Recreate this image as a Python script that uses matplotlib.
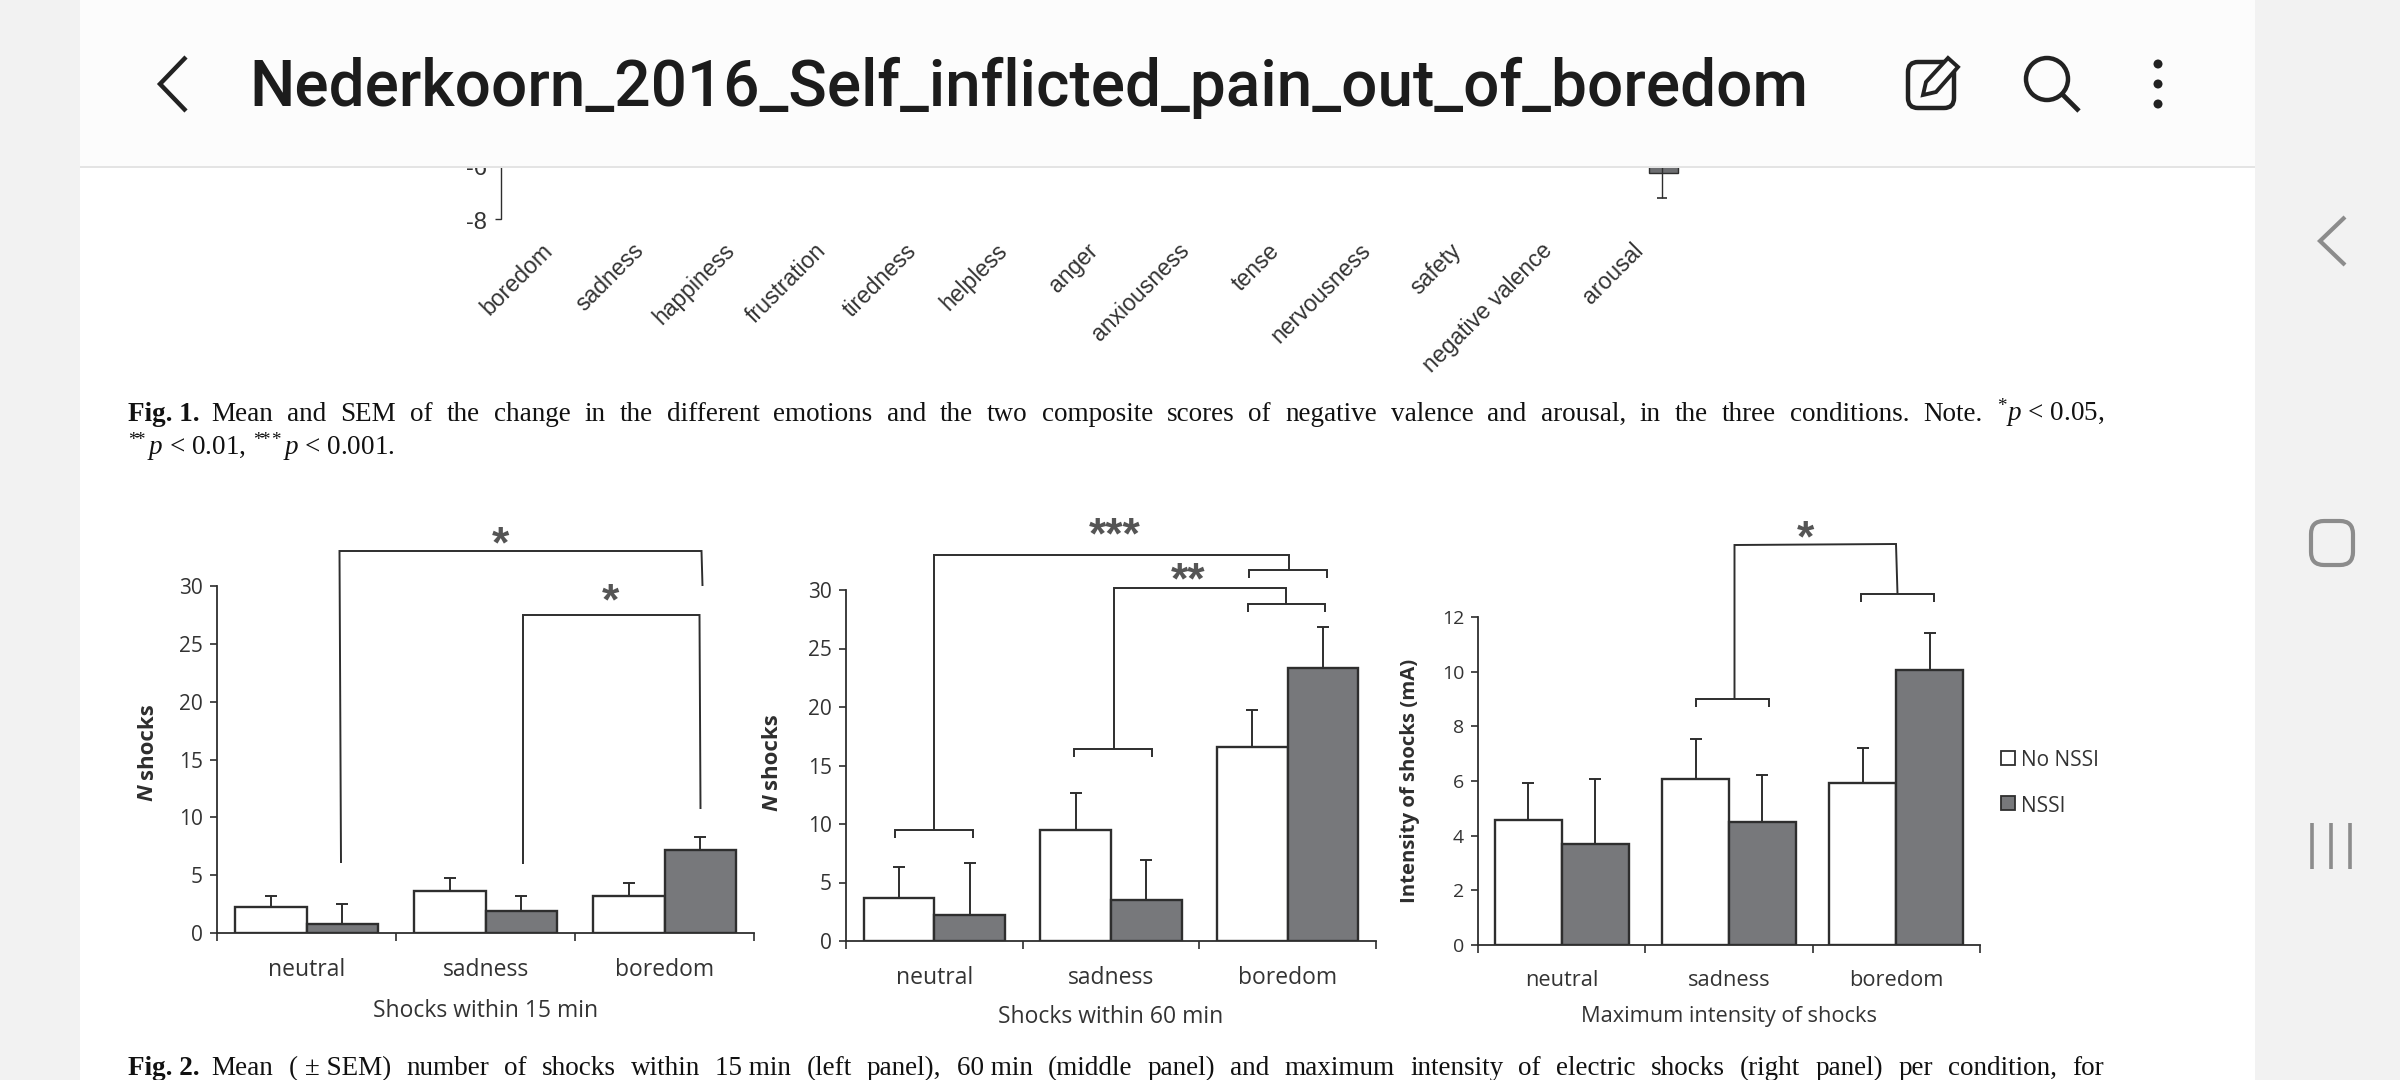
import matplotlib
matplotlib.use('Agg')
import numpy as np
import matplotlib.pyplot as plt
from matplotlib.patches import Rectangle, FancyBboxPatch, Circle, Polygon

W, H = 2400, 1080

plt.rcParams['font.family'] = ['Open Sans', 'DejaVu Sans']
plt.rcParams['mathtext.fontset'] = 'custom'
plt.rcParams['mathtext.rm'] = 'Liberation Serif'
plt.rcParams['mathtext.it'] = 'Liberation Serif:italic'
plt.rcParams['mathtext.bf'] = 'Liberation Serif:bold'
plt.rcParams['mathtext.default'] = 'it'

# values
conditions = ['neutral', 'sadness', 'boredom']
group_names = ['No NSSI', 'NSSI']

shocks15_no = [2.27, 3.6, 3.2]
shocks15_no_sem = [0.93, 1.13, 1.15]
shocks15_nssi = [0.77, 1.92, 7.2]
shocks15_nssi_sem = [1.73, 1.28, 1.1]

shocks60_no = [3.7, 9.48, 16.6]
shocks60_no_sem = [2.62, 3.17, 3.16]
shocks60_nssi = [2.2, 3.5, 23.3]
shocks60_nssi_sem = [4.47, 3.4, 3.54]

intensity_no = [4.59, 6.08, 5.93]
intensity_no_sem = [1.34, 1.44, 1.27]
intensity_nssi = [3.7, 4.51, 10.07]
intensity_nssi_sem = [2.38, 1.72, 1.33]

emotions = ['boredom', 'sadness', 'happiness', 'frustration', 'tiredness', 'helpless', 'anger',
            'anxiousness', 'tense', 'nervousness', 'safety', 'negative valence', 'arousal']

title = 'Nederkoorn_2016_Self_inflicted_pain_out_of_boredom'
fig1_line1 = ['Mean', 'and', 'SEM', 'of', 'the', 'change', 'in', 'the', 'different', 'emotions', 'and', 'the',
              'two', 'composite', 'scores', 'of', 'negative', 'valence', 'and', 'arousal,', 'in', 'the', 'three',
              'conditions.', 'Note.', r'$^{*}p$ < 0.05,']
fig1_line2 = [r'$^{*\!\!*}p$ < 0.01,', r'$^{*\!\!*\!\!*}p$ < 0.001.']
fig2_line = ['Mean', '( \u00b1 SEM)', 'number', 'of', 'shocks', 'within', '15 min', '(left', 'panel),', '60 min',
             '(middle', 'panel)', 'and', 'maximum', 'intensity', 'of', 'electric', 'shocks', '(right',
             'panel)', 'per', 'condition,', 'for']

INK = '#2e2e2e'
GREY_BAR = '#77787b'
TXT = '#333333'

fig = plt.figure(figsize=(W / 100, H / 100), dpi=100, facecolor='white')


def panel(left, right, top, bottom, ymax, yticks, no, no_sem, nssi, nssi_sem, xlabel, fs, tick_fs, tick_pad, label_pad):
    ax = fig.add_axes([left / W, 1 - bottom / H, (right - left) / W, (bottom - top) / H], zorder=1)
    ax.patch.set_alpha(0)
    x = np.arange(3) + 0.5
    width = 0.4
    for xs, vals, sem, col in [(x - width / 2, no, no_sem, 'white'), (x + width / 2, nssi, nssi_sem, GREY_BAR)]:
        ax.bar(xs, vals, width, color=col, edgecolor=INK, linewidth=1.7, zorder=3)
        ax.errorbar(xs, vals, yerr=[np.zeros(3), sem], fmt='none', ecolor=INK, elinewidth=1.4,
                    capsize=4.5, capthick=1.4, zorder=2)
    ax.set_xlim(0, 3)
    ax.set_ylim(0, ymax)
    ax.set_yticks(yticks)
    ax.set_xticks([0, 1, 2, 3])
    ax.set_xticklabels([])
    ax.set_xticks(x, minor=True)
    ax.set_xticklabels(conditions, minor=True, fontsize=fs, color=TXT)
    ax.tick_params(axis='x', which='minor', length=0, pad=tick_pad)
    ax.tick_params(axis='x', which='major', length=6, width=1.2, color=INK)
    ax.tick_params(axis='y', length=5, width=1.2, color=INK, labelsize=tick_fs, labelcolor=TXT, pad=5)
    for s in ['top', 'right']:
        ax.spines[s].set_visible(False)
    for s in ['left', 'bottom']:
        ax.spines[s].set_color(INK)
        ax.spines[s].set_linewidth(1.3)
    ax.set_xlabel(xlabel, fontsize=fs, color=TXT, labelpad=label_pad)
    return ax


panel(217, 754, 586, 933, 30, [0, 5, 10, 15, 20, 25, 30], shocks15_no, shocks15_no_sem,
      shocks15_nssi, shocks15_nssi_sem, 'Shocks within 15 min', 16.5, 15, 18, 12)
panel(846, 1376, 590, 941, 30, [0, 5, 10, 15, 20, 25, 30], shocks60_no, shocks60_no_sem,
      shocks60_nssi, shocks60_nssi_sem, 'Shocks within 60 min', 16.5, 15, 18, 11)
panel(1478, 1980, 617, 945, 12, [0, 2, 4, 6, 8, 10, 12], intensity_no, intensity_no_sem,
      intensity_nssi, intensity_nssi_sem, 'Maximum intensity of shocks', 15.7, 14, 18, 10.5)

# page overlay in pixel coordinates
page = fig.add_axes([0, 0, 1, 1], zorder=5)
page.set_xlim(0, W)
page.set_ylim(H, 0)
page.axis('off')
page.patch.set_alpha(0)


def line(xs, ys, lw=1.4, color=INK, z=4):
    page.plot(xs, ys, color=color, lw=lw, solid_capstyle='butt', solid_joinstyle='miter', zorder=z)


def bracket(x0, x1, y, drop=8):
    line([x0, x0, x1, x1], [y + drop, y, y, y + drop])


def star(s, x, y):
    page.text(x, y + 9, s, ha='center', va='center', fontsize=32, fontweight='bold', color='#555555',
              family=['Liberation Sans'])


# significance brackets, panel 1
line([341, 339.5, 701.5, 702.5], [863, 551, 551, 586])
line([523, 523, 699.5, 700.5], [864, 615, 615, 809])
star('*', 500, 537)
star('*', 610, 594)
# panel 2
bracket(895, 973, 830)
line([934, 934, 1288.5, 1288.5], [830, 555, 555, 570])
bracket(1249, 1327, 570)
bracket(1074, 1152, 749)
line([1113.5, 1113.5, 1286, 1286], [749, 588, 588, 604])
bracket(1247.5, 1324.5, 604)
star('***', 1115, 528)
star('**', 1188, 573)
# panel 3
bracket(1696, 1769, 699)
line([1734.5, 1734.5, 1896, 1897.5], [699, 545, 544, 594])
bracket(1861, 1934, 594)
star('*', 1805, 531)

# legend
page.add_patch(Rectangle((2001, 751), 14, 14, facecolor='white', edgecolor=INK, lw=1.3, zorder=4))
page.add_patch(Rectangle((2001, 796), 14, 14, facecolor=GREY_BAR, edgecolor=INK, lw=1.3, zorder=4))
page.text(2021, 760, group_names[0], va='center', fontsize=15, color=TXT)
page.text(2021, 806, group_names[1], va='center', fontsize=15, color=TXT)

# y labels, N is bold italic
for x, y in [(147, 801), (772, 811)]:
    page.text(x, y, 'N', rotation=90, ha='center', va='bottom', fontsize=16, fontweight='bold',
              fontstyle='italic', color=INK)
    page.text(x, y - 22, 'shocks', rotation=90, ha='center', va='bottom', fontsize=16,
              fontweight='bold', color=INK)
page.text(1410, 781, 'Intensity of shocks (mA)', rotation=90, ha='center', va='center', fontsize=14.7,
          fontweight='bold', color=INK)

# bottom of the figure above
SANS = ['Liberation Sans']
for i, name in enumerate(emotions):
    page.text(541 + i * 90.9, 239, name, rotation=45, ha='right', va='top', rotation_mode='anchor',
              fontsize=16.6, color=TXT, family=SANS)
line([500.5, 500.5, 495], [150, 219, 219], lw=1.0)
page.text(487, 223, '-8', ha='right', va='center', fontsize=17, color=TXT, family=SANS)
page.text(487, 169, '-6', ha='right', va='center', fontsize=17, color=TXT, family=SANS)
line([1662, 1662], [150, 198], lw=1.0)
line([1657, 1667], [198, 198], lw=1.2)
page.add_patch(Rectangle((1649, 150), 29, 23, facecolor='#6d6e71', edgecolor=INK, lw=1, zorder=3))

# captions, justified word by word
renderer = fig.canvas.get_renderer()
SERIF = ['Liberation Serif']
CAP = 19.5


def justified(words, y, x0=128, x1=2104, lead=None, fill=True):
    x = x0
    if lead:
        t = page.text(x, y, lead, va='baseline', fontsize=CAP, fontweight='bold', color='#111111', family=SERIF)
        x += t.get_window_extent(renderer).width + 12
    items = [page.text(0, y, w, va='baseline', fontsize=CAP, color='#111111', family=SERIF) for w in words]
    widths = [t.get_window_extent(renderer).width for t in items]
    gap = (x1 - x - sum(widths)) / (len(words) - 1) if fill else 7
    for t, w in zip(items, widths):
        t.set_x(x)
        x += w + gap


justified(fig1_line1, 421, lead='Fig. 1.')
justified(fig1_line2, 455, fill=False)
justified(fig2_line, 1075, lead='Fig. 2.')

# viewer chrome
page.add_patch(Rectangle((0, 0), 80, H, facecolor='#f2f2f2', edgecolor='none', zorder=8))
page.add_patch(Rectangle((2255, 0), 145, H, facecolor='#f2f2f2', edgecolor='none', zorder=8))
page.add_patch(Rectangle((80, 0), 2175, 166, facecolor='#fcfcfc', edgecolor='none', zorder=8))
page.add_patch(Rectangle((80, 166), 2175, 2, facecolor='#e4e4e4', edgecolor='none', zorder=8))
page.text(249, 88, title, va='center', ha='left', fontsize=46, fontweight='medium', color='#1c1c1c',
          family=['Roboto'], zorder=9)
line([186, 160, 186], [57, 84, 111], lw=3.2, color='#222222', z=9)
# edit icon
page.add_patch(FancyBboxPatch((1908, 62), 46, 46, boxstyle='round,pad=0,rounding_size=10', facecolor='none',
                              edgecolor='#222222', lw=3.2, zorder=9))
page.add_patch(Polygon([(1926, 82), (1948, 58), (1958, 67), (1936, 92), (1923, 95)], closed=True, facecolor='#fcfcfc',
                       edgecolor='#222222', lw=2.8, zorder=10))
# search icon
page.add_patch(Circle((2047, 79), 21, facecolor='none', edgecolor='#222222', lw=3.2, zorder=9))
line([2062, 2079], [94, 111], lw=3.4, color='#222222', z=9)
# menu dots
for y in [64, 84, 104]:
    page.add_patch(Circle((2158, y), 4.5, facecolor='#222222', edgecolor='none', zorder=9))
# android nav
NAV = '#8c8c8c'
line([2345, 2320, 2345], [217, 241, 265], lw=3, color=NAV, z=9)
page.add_patch(FancyBboxPatch((2311, 521), 42, 44, boxstyle='round,pad=0,rounding_size=13', facecolor='none',
                              edgecolor=NAV, lw=3, zorder=9))
for x in [2312, 2331, 2350]:
    line([x, x], [823, 869], lw=2.6, color=NAV, z=9)

fig.savefig('out.png', dpi=100)
